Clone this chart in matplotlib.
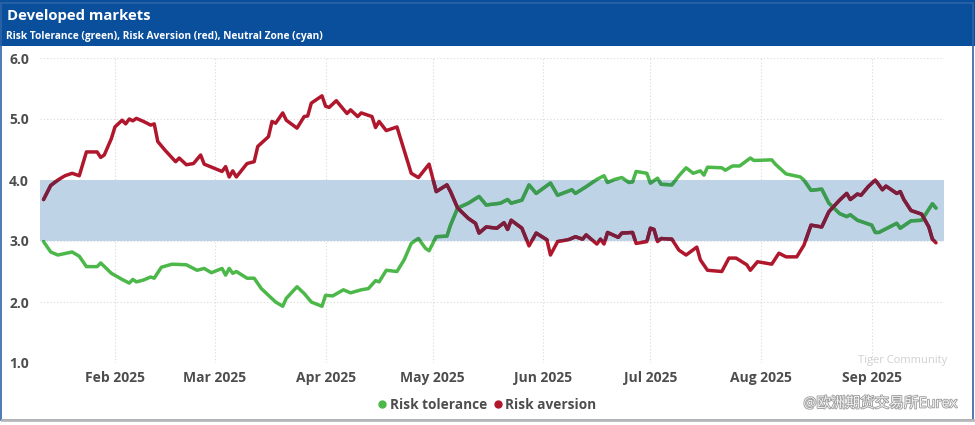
import matplotlib
matplotlib.use('Agg')
import matplotlib.pyplot as plt
import matplotlib.dates as mdates
import matplotlib.patheffects as pe
from matplotlib.patches import Rectangle
import pandas as pd

# data
tol_dates = ['2025-01-12', '2025-01-14', '2025-01-16', '2025-01-20', '2025-01-22', '2025-01-24',
             '2025-01-27', '2025-01-28', '2025-01-31', '2025-02-03', '2025-02-05', '2025-02-06',
             '2025-02-07', '2025-02-09', '2025-02-11', '2025-02-12', '2025-02-14', '2025-02-17',
             '2025-02-21', '2025-02-24', '2025-02-26', '2025-02-28', '2025-03-03', '2025-03-04',
             '2025-03-05', '2025-03-06', '2025-03-07', '2025-03-10', '2025-03-12', '2025-03-14',
             '2025-03-16', '2025-03-18', '2025-03-20', '2025-03-21', '2025-03-24', '2025-03-26',
             '2025-03-28', '2025-03-31', '2025-04-01', '2025-04-03', '2025-04-06', '2025-04-08',
             '2025-04-11', '2025-04-13', '2025-04-15', '2025-04-16', '2025-04-18', '2025-04-21',
             '2025-04-23', '2025-04-25', '2025-04-27', '2025-04-29', '2025-04-30', '2025-05-02',
             '2025-05-05', '2025-05-06', '2025-05-08', '2025-05-11', '2025-05-14', '2025-05-16',
             '2025-05-20', '2025-05-22', '2025-05-23', '2025-05-26', '2025-05-28', '2025-05-30',
             '2025-06-03', '2025-06-05', '2025-06-09', '2025-06-10', '2025-06-13', '2025-06-16',
             '2025-06-18', '2025-06-19', '2025-06-21', '2025-06-23', '2025-06-25', '2025-06-26',
             '2025-06-27', '2025-06-30', '2025-07-01', '2025-07-03', '2025-07-04', '2025-07-07',
             '2025-07-09', '2025-07-11', '2025-07-13', '2025-07-15', '2025-07-16', '2025-07-17',
             '2025-07-21', '2025-07-22', '2025-07-24', '2025-07-26', '2025-07-29', '2025-07-30',
             '2025-08-04', '2025-08-05', '2025-08-08', '2025-08-12', '2025-08-13', '2025-08-15',
             '2025-08-18', '2025-08-20', '2025-08-23', '2025-08-25', '2025-08-26', '2025-08-28',
             '2025-09-01', '2025-09-02', '2025-09-03', '2025-09-08', '2025-09-09', '2025-09-12',
             '2025-09-15', '2025-09-18', '2025-09-19']
risk_tolerance = [2.99, 2.82, 2.77, 2.82, 2.75, 2.58, 2.58, 2.64, 2.47, 2.37, 2.31, 2.37,
                  2.33, 2.36, 2.41, 2.39, 2.57, 2.62, 2.61, 2.52, 2.55, 2.48, 2.55, 2.44,
                  2.55, 2.47, 2.50, 2.39, 2.39, 2.22, 2.11, 2.00, 1.93, 2.06, 2.25, 2.14,
                  2.00, 1.93, 2.11, 2.10, 2.20, 2.15, 2.20, 2.22, 2.35, 2.33, 2.52, 2.50,
                  2.69, 2.96, 3.04, 2.88, 2.84, 3.07, 3.08, 3.26, 3.54, 3.62, 3.73, 3.59,
                  3.62, 3.68, 3.62, 3.67, 3.92, 3.78, 3.95, 3.75, 3.84, 3.78, 3.89, 4.01,
                  4.07, 3.96, 4.01, 4.04, 3.96, 3.97, 4.14, 4.11, 3.95, 4.03, 3.93, 3.92,
                  4.07, 4.20, 4.11, 4.15, 4.08, 4.21, 4.20, 4.16, 4.23, 4.23, 4.36, 4.32,
                  4.33, 4.26, 4.10, 4.05, 4.00, 3.83, 3.85, 3.62, 3.45, 3.40, 3.43, 3.34,
                  3.26, 3.14, 3.14, 3.29, 3.21, 3.33, 3.34, 3.61, 3.54]

av_dates = ['2025-01-12', '2025-01-14', '2025-01-16', '2025-01-18', '2025-01-20', '2025-01-22',
            '2025-01-24', '2025-01-27', '2025-01-28', '2025-01-29', '2025-01-31', '2025-02-01',
            '2025-02-03', '2025-02-04', '2025-02-05', '2025-02-06', '2025-02-07', '2025-02-09',
            '2025-02-11', '2025-02-12', '2025-02-13', '2025-02-15', '2025-02-18', '2025-02-19',
            '2025-02-21', '2025-02-23', '2025-02-25', '2025-02-26', '2025-03-03', '2025-03-04',
            '2025-03-05', '2025-03-06', '2025-03-07', '2025-03-10', '2025-03-12', '2025-03-13',
            '2025-03-16', '2025-03-17', '2025-03-18', '2025-03-20', '2025-03-21', '2025-03-24',
            '2025-03-26', '2025-03-27', '2025-03-28', '2025-03-31', '2025-04-01', '2025-04-02',
            '2025-04-04', '2025-04-07', '2025-04-08', '2025-04-10', '2025-04-11', '2025-04-14',
            '2025-04-15', '2025-04-16', '2025-04-18', '2025-04-21', '2025-04-23', '2025-04-25',
            '2025-04-27', '2025-04-30', '2025-05-02', '2025-05-05', '2025-05-06', '2025-05-08',
            '2025-05-11', '2025-05-13', '2025-05-14', '2025-05-16', '2025-05-19', '2025-05-21',
            '2025-05-22', '2025-05-23', '2025-05-26', '2025-05-28', '2025-05-30', '2025-06-02',
            '2025-06-03', '2025-06-05', '2025-06-08', '2025-06-10', '2025-06-12', '2025-06-13',
            '2025-06-16', '2025-06-17', '2025-06-18', '2025-06-19', '2025-06-22', '2025-06-23',
            '2025-06-26', '2025-06-27', '2025-06-30', '2025-07-01', '2025-07-02', '2025-07-03',
            '2025-07-04', '2025-07-07', '2025-07-09', '2025-07-11', '2025-07-14', '2025-07-15',
            '2025-07-17', '2025-07-21', '2025-07-23', '2025-07-25', '2025-07-28', '2025-07-29',
            '2025-07-31', '2025-08-04', '2025-08-06', '2025-08-08', '2025-08-11', '2025-08-13',
            '2025-08-15', '2025-08-18', '2025-08-20', '2025-08-23', '2025-08-25', '2025-08-26',
            '2025-08-28', '2025-08-29', '2025-08-31', '2025-09-02', '2025-09-04', '2025-09-05',
            '2025-09-08', '2025-09-09', '2025-09-10', '2025-09-12', '2025-09-15', '2025-09-17',
            '2025-09-18', '2025-09-19']
risk_aversion = [3.68, 3.91, 4.00, 4.07, 4.11, 4.07, 4.46, 4.46, 4.37, 4.41, 4.68, 4.87,
                 4.98, 4.92, 5.00, 4.97, 5.01, 4.96, 4.90, 4.92, 4.63, 4.49, 4.30, 4.36,
                 4.25, 4.27, 4.41, 4.26, 4.14, 4.22, 4.05, 4.15, 4.05, 4.27, 4.30, 4.55,
                 4.71, 4.96, 4.93, 5.10, 4.98, 4.85, 5.04, 5.05, 5.26, 5.38, 5.21, 5.19,
                 5.30, 5.09, 5.15, 5.04, 5.10, 5.04, 4.86, 4.96, 4.81, 4.87, 4.49, 4.11,
                 4.04, 4.26, 3.81, 3.92, 3.81, 3.54, 3.37, 3.29, 3.13, 3.23, 3.21, 3.30,
                 3.19, 3.34, 3.21, 2.92, 3.13, 3.02, 2.77, 2.99, 3.02, 3.07, 3.03, 3.10,
                 2.95, 3.03, 2.95, 3.14, 3.06, 3.13, 3.14, 2.96, 2.99, 3.21, 3.19, 2.99,
                 3.04, 3.03, 2.85, 2.77, 2.90, 2.69, 2.52, 2.50, 2.72, 2.72, 2.61, 2.52,
                 2.66, 2.62, 2.80, 2.74, 2.74, 2.93, 3.26, 3.23, 3.48, 3.67, 3.78, 3.68,
                 3.77, 3.75, 3.89, 4.00, 3.84, 3.90, 3.78, 3.81, 3.68, 3.50, 3.44, 3.23,
                 3.03, 2.97]

neutral_zone = (3.0, 4.0)
y_ticks = [1.0, 2.0, 3.0, 4.0, 5.0, 6.0]
month_ticks = ['2025-02-01', '2025-03-01', '2025-04-01', '2025-05-01',
               '2025-06-01', '2025-07-01', '2025-08-01', '2025-09-01']

title = 'Developed markets'
subtitle = 'Risk Tolerance (green), Risk Aversion (red), Neutral Zone (cyan)'

plt.rcParams['font.family'] = ['Open Sans', 'Noto Sans CJK SC', 'DejaVu Sans']

fig = plt.figure(figsize=(9.75, 4.25), dpi=100)
fig.patch.set_facecolor('white')

# header
fig.patches.append(Rectangle((0, 1 - 46 / 425), 1, 46 / 425, transform=fig.transFigure,
                             facecolor='#0a4f9c', edgecolor='none', zorder=0))
# outer frame
fig.patches.append(Rectangle((0.001, 0.012), 0.997, 0.98, transform=fig.transFigure,
                             facecolor='none', edgecolor='#2f64a8', lw=1.2, zorder=1))
fig.lines.append(plt.Line2D([0.002, 0.998], [0.012, 0.012], transform=fig.transFigure,
                            color='#b8b8b8', lw=2))
fig.text(7 / 975, 1 - 16 / 425, title, color='white', fontsize=10.7, fontweight='bold',
         va='center', ha='left')
fig.text(6 / 975, 1 - 36 / 425, subtitle, color='white', fontsize=7.3, fontweight='bold',
         va='center', ha='left')

ax = fig.add_axes([40 / 975, 1 - 363 / 425, (944 - 40) / 975, (363 - 58) / 425])

td = pd.to_datetime(tol_dates)
ad = pd.to_datetime(av_dates)

ax.axhspan(neutral_zone[0], neutral_zone[1], color='#bfd3e6', zorder=1, lw=0)

band_clip = Rectangle((0, neutral_zone[0]), 1, neutral_zone[1] - neutral_zone[0],
                      transform=ax.get_yaxis_transform(), facecolor='none', edgecolor='none')
ax.add_patch(band_clip)

for d, v, c_out, c_in in [(td, risk_tolerance, '#4cb849', '#3c9a52'),
                          (ad, risk_aversion, '#b0172c', '#7a1e3e')]:
    ax.plot(d, v, color=c_out, lw=2.5, zorder=3, solid_joinstyle='round', solid_capstyle='round')
    inner, = ax.plot(d, v, color=c_in, lw=2.5, zorder=4, solid_joinstyle='round',
                     solid_capstyle='round')
    inner.set_clip_path(band_clip)

ax.set_ylim(1.0, 6.0)
ax.set_xlim(pd.Timestamp('2025-01-11'), pd.Timestamp('2025-09-21 06:00'))
ax.set_yticks(y_ticks)
ax.set_yticklabels([f'{t:.1f}' for t in y_ticks])
ax.set_xticks(pd.to_datetime(month_ticks))
ax.xaxis.set_major_formatter(mdates.DateFormatter('%b %Y'))

ax.grid(True, color='#d9d9d9', linestyle=(0, (1, 2)), lw=0.8, zorder=0)
ax.set_axisbelow(True)
for s in ax.spines.values():
    s.set_visible(False)
ax.tick_params(length=0, labelsize=10, labelcolor='#4d4d4d', pad=6)
ax.tick_params(axis='y', pad=8)
for lbl in ax.get_xticklabels() + ax.get_yticklabels():
    lbl.set_fontweight('bold')

# legend
handles = [plt.Line2D([], [], marker='o', ls='none', color='#4cb849', markersize=5),
           plt.Line2D([], [], marker='o', ls='none', color='#b0172c', markersize=5)]
leg = fig.legend(handles, ['Risk tolerance', 'Risk aversion'], loc='center',
                 bbox_to_anchor=(486 / 975, 1 - 405 / 425), ncol=2, frameon=False,
                 handletextpad=0.05, columnspacing=0.3, handlelength=1.0,
                 prop={'weight': 'bold', 'size': 9.8})
for t in leg.get_texts():
    t.set_color('#4d4d4d')

# watermark
fig.text(858 / 975, 1 - 361 / 425, 'Tiger Community', color='#d0d0d0', fontsize=8,
         va='center', ha='left')
fig.text(958 / 975, 1 - 404 / 425, '@欧洲期货交易所Eurex', color='#f4f4f4', fontsize=10.5,
         va='center', ha='right',
         path_effects=[pe.withStroke(linewidth=1.2, foreground='#9a9a9a')])

fig.savefig('out.png', dpi=100)
